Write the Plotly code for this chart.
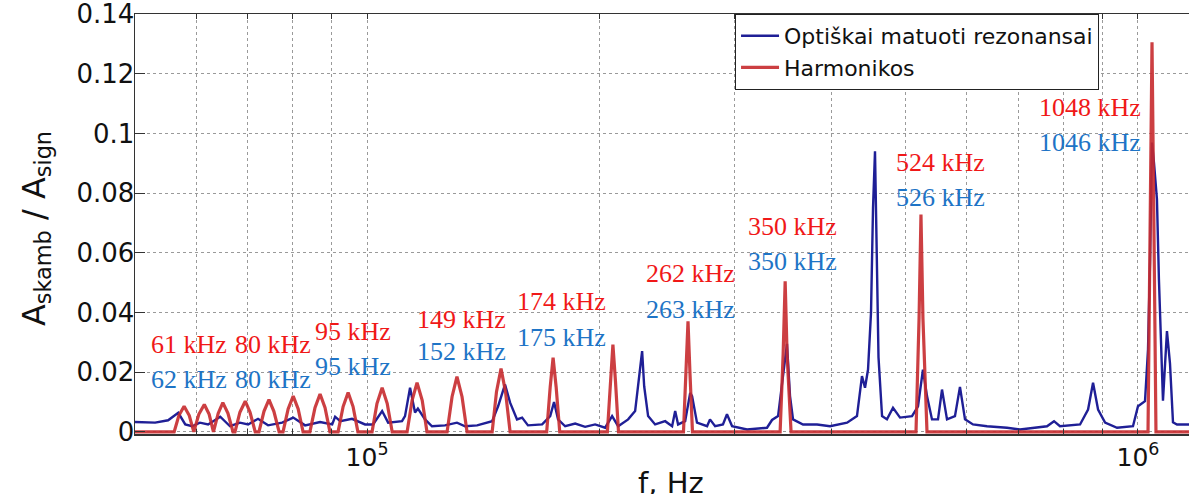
import numpy as np
import plotly.graph_objects as go

# ---------------- data ----------------
# Optically measured resonances (blue), frequency in kHz, amplitude ratio
blue_f_khz = [50.0, 53.1, 55.2, 56.9, 58.1, 59.3, 60.7, 62.2, 64.5, 66.4, 68.4, 70.1, 72.2, 74.4,
              77.6, 80.2, 83.1, 86.9, 90.1, 90.9, 92.3, 95.6, 99.4, 101.8, 104.6, 106.5, 111.0,
              112.0, 113.7, 114.4, 115.4, 116.4, 118.9, 121.4, 126.2, 130.8, 134.0, 138.9, 145.3,
              147.9, 151.0, 153.3, 156.5, 158.9, 161.7, 168.7, 172.8, 174.8, 176.9, 180.7, 186.2,
              191.8, 197.6, 203.6, 207.9, 211.7, 218.1, 222.7, 227.4, 228.8, 231.5, 236.4, 243.6,
              248.7, 251.0, 253.2, 258.6, 262.5, 264.0, 267.9, 276.1, 278.5, 282.8, 289.5, 293.0,
              297.5, 311.1, 330.2, 335.2, 341.3, 350.5, 353.7, 356.9, 367.7, 383.5, 398.6, 419.4,
              432.0, 438.5, 442.5, 446.5, 450.5, 453.2, 455.9, 458.7, 460.7, 465.6, 472.5, 481.1,
              491.3, 509.2, 518.4, 526.1, 532.5, 540.5, 550.3, 556.9, 565.3, 578.9, 587.6, 596.5,
              610.9, 637.1, 676.2, 703.1, 762.1, 778.2, 792.2, 841.1, 861.5, 874.4, 887.6, 906.4,
              939.5, 985.2, 1000.0, 1021.2, 1030.4, 1036.6, 1042.8, 1049.1, 1058.3, 1064.6, 1077.5,
              1090.4, 1100.3, 1110.2, 1123.5, 1164.6]
blue_amp = [0.0033, 0.0031, 0.0039, 0.0064, 0.0025, 0.0019, 0.0031, 0.0025, 0.0051, 0.0019, 0.0031,
            0.0025, 0.0044, 0.0022, 0.0031, 0.0048, 0.0022, 0.0033, 0.0025, 0.0051, 0.0036, 0.0044,
            0.0025, 0.0025, 0.0070, 0.0031, 0.0036, 0.0053, 0.0148, 0.0109, 0.0065, 0.0078, 0.0042,
            0.0019, 0.0022, 0.0031, 0.0019, 0.0022, 0.0036, 0.0086, 0.0159, 0.0098, 0.0042, 0.0048,
            0.0022, 0.0025, 0.0053, 0.0100, 0.0042, 0.0019, 0.0028, 0.0017, 0.0025, 0.0014, 0.0053,
            0.0019, 0.0042, 0.0070, 0.0271, 0.0153, 0.0053, 0.0025, 0.0036, 0.0019, 0.0070, 0.0025,
            0.0036, 0.0131, 0.0120, 0.0031, 0.0019, 0.0042, 0.0019, 0.0025, 0.0059, 0.0019, 0.0008,
            0.0014, 0.0040, 0.0053, 0.0295, 0.0120, 0.0042, 0.0025, 0.0025, 0.0019, 0.0031, 0.0053,
            0.0187, 0.0148, 0.0209, 0.0400, 0.0750, 0.0941, 0.0600, 0.0250, 0.0053, 0.0042, 0.0081,
            0.0048, 0.0053, 0.0086, 0.0209, 0.0120, 0.0042, 0.0042, 0.0142, 0.0042, 0.0053, 0.0151,
            0.0042, 0.0025, 0.0019, 0.0014, 0.0008, 0.0019, 0.0036, 0.0019, 0.0025, 0.0075, 0.0165,
            0.0075, 0.0031, 0.0014, 0.0019, 0.0086, 0.0103, 0.0276, 0.0570, 0.0970, 0.0900, 0.0780,
            0.0510, 0.0105, 0.0338, 0.0230, 0.0032, 0.0025, 0.0025]

# Harmonics (red), frequency in kHz, amplitude ratio
red_f_khz = [50.0, 56.2, 57.0, 57.9, 58.8, 59.6, 60.5, 61.5, 62.4, 63.2, 64.1, 65.0, 66.0, 67.0,
             67.4, 68.4, 69.5, 70.5, 71.6, 72.4, 73.5, 74.6, 75.7, 76.9, 77.8, 79.0, 80.2, 81.4,
             82.6, 84.3, 85.6, 86.9, 88.2, 89.5, 91.7, 93.1, 94.5, 95.9, 97.3, 101.5, 103.0, 104.6,
             106.2, 107.8, 112.7, 114.4, 116.1, 117.9, 119.6, 127.0, 128.9, 130.8, 132.8, 134.8,
             145.3, 147.2, 149.2, 151.2, 153.3, 171.0, 172.8, 174.3, 175.9, 177.8, 205.0, 206.9,
             208.4, 210.0, 211.9, 257.3, 259.2, 260.8, 262.3, 264.3, 343.4, 346.5, 348.6, 350.6,
             354.8, 515.3, 520.0, 523.0, 526.1, 532.5, 1030.4, 1036.6, 1042.8, 1049.1, 1055.2, 1164.6]
red_amp = [0, 0, 0.0055, 0.0086, 0.0055, 0, 0.0059, 0.0092, 0.0059, 0, 0.0062, 0.0098, 0.0062, 0,
           0, 0.0066, 0.0103, 0.0066, 0, 0, 0.0069, 0.0108, 0.0069, 0, 0, 0.0077, 0.0120, 0.0077,
           0, 0, 0.0081, 0.0127, 0.0081, 0, 0, 0.0085, 0.0132, 0.0085, 0, 0, 0.0095, 0.0148,
           0.0095, 0, 0, 0.0106, 0.0165, 0.0106, 0, 0, 0.0118, 0.0185, 0.0118, 0,
           0, 0.0135, 0.0212, 0.0135, 0, 0, 0.0150, 0.0249, 0.0150, 0, 0, 0.0170,
           0.0293, 0.0170, 0, 0, 0.0200, 0.0371, 0.0200, 0, 0, 0.0260, 0.0505, 0.0260,
           0, 0, 0.0380, 0.0729, 0.0380, 0, 0, 0.0653, 0.1306, 0.0653, 0, 0]

# Peak labels
label_red_text = ["61 kHz", "80 kHz", "95 kHz", "149 kHz", "174 kHz", "262 kHz", "350 kHz",
                  "524 kHz", "1048 kHz"]
label_blue_text = ["62 kHz", "80 kHz", "95 kHz", "152 kHz", "175 kHz", "263 kHz", "350 kHz",
                   "526 kHz", "1046 kHz"]
label_f_khz = [58.8, 75.5, 95.9, 132.4, 178.5, 262.5, 355.9, 553.7, 866.5]
label_red_amp = [0.0293, 0.0293, 0.0337, 0.0377, 0.0437, 0.0531, 0.0688, 0.0903, 0.1087]
label_blue_amp = [0.0176, 0.0176, 0.0219, 0.0270, 0.0317, 0.0410, 0.0571, 0.0786, 0.0970]

# Axes
y_tick_vals = [0, 0.02, 0.04, 0.06, 0.08, 0.1, 0.12, 0.14]
y_tick_text = ["0", "0.02", "0.04", "0.06", "0.08", "0.1", "0.12", "0.14"]
x_tick_vals = [6e4, 7e4, 8e4, 9e4, 1e5, 2e5, 3e5, 4e5, 5e5, 6e5, 7e5, 8e5, 9e5, 1e6]
x_tick_text = ["", "", "", "", "10<sup>5</sup>", "", "", "", "", "", "", "", "", "10<sup>6</sup>"]
x_min_hz, x_max_hz = 5e4, 1.1646e6
y_min, y_max = -0.0007, 0.1401

assert len(blue_f_khz) == len(blue_amp)
assert len(red_f_khz) == len(red_amp)

# ---------------- figure ----------------
SANS = "DejaVu Sans"
SERIF = "Liberation Serif"
BLUE_LINE = "#1f1f96"
RED_LINE = "#c62a2e"
RED_TEXT = "#f01818"
BLUE_TEXT = "#1e74c6"
GRID = "#9a9a9a"

fig = go.Figure()
fig.add_trace(go.Scatter(
    x=np.array(blue_f_khz) * 1000, y=blue_amp, mode="lines",
    name="Optiškai matuoti rezonansai", hoverinfo="skip",
    line=dict(color=BLUE_LINE, width=2.4)))
fig.add_trace(go.Scatter(
    x=np.array(red_f_khz) * 1000, y=red_amp, mode="lines",
    name="Harmonikos", opacity=0.9, hoverinfo="skip",
    line=dict(color=RED_LINE, width=3.2)))

annotations = []
for txt, f, a in zip(label_red_text, label_f_khz, label_red_amp):
    annotations.append(dict(x=np.log10(f * 1000), y=a, xref="x", yref="y", text=txt,
                            showarrow=False, xanchor="center", yanchor="middle",
                            font=dict(family=SERIF, size=26, color=RED_TEXT)))
for txt, f, a in zip(label_blue_text, label_f_khz, label_blue_amp):
    annotations.append(dict(x=np.log10(f * 1000), y=a, xref="x", yref="y", text=txt,
                            showarrow=False, xanchor="center", yanchor="middle",
                            font=dict(family=SERIF, size=26, color=BLUE_TEXT)))

# axis titles
annotations.append(dict(x=-0.094, y=0.49, xref="paper", yref="paper",
                        text="A<sub>skamb</sub> / A<sub>sign</sub>", textangle=-90,
                        showarrow=False, xanchor="center", yanchor="middle",
                        font=dict(family=SANS, size=32, color="#111111")))
annotations.append(dict(x=0.5085, y=-0.116, xref="paper", yref="paper",
                        text="f, Hz", showarrow=False, xanchor="center", yanchor="middle",
                        font=dict(family=SANS, size=29, color="#111111")))

fig.update_layout(
    width=1189, height=494,
    margin=dict(l=135, r=0, t=14, b=60),
    paper_bgcolor="white", plot_bgcolor="white",
    showlegend=True, hovermode=False,
    legend=dict(x=0.5693, y=1.0, xanchor="left", yanchor="top",
                bgcolor="white", bordercolor="#222222", borderwidth=1,
                font=dict(family=SANS, size=22, color="#111111"),
                tracegroupgap=0, itemwidth=38),
    annotations=annotations,
)
fig.update_xaxes(
    type="log", range=[np.log10(x_min_hz), np.log10(x_max_hz)],
    tickmode="array", tickvals=x_tick_vals, ticktext=x_tick_text,
    tickfont=dict(family=SANS, size=25, color="#111111"),
    ticks="inside", ticklen=5, tickcolor="#333333",
    showgrid=True, gridcolor=GRID, griddash="dot", gridwidth=1,
    showline=True, linecolor="#333333", linewidth=1.5, mirror="ticks",
    zeroline=False,
)
fig.update_yaxes(
    range=[y_min, y_max],
    tickmode="array", tickvals=y_tick_vals, ticktext=y_tick_text,
    tickfont=dict(family=SANS, size=26, color="#111111"),
    ticks="inside", ticklen=10, tickcolor="#333333", ticklabelstandoff=-6,
    ticklabeloverflow="allow",
    showgrid=True, gridcolor=GRID, griddash="dot", gridwidth=1,
    showline=True, linecolor="#333333", linewidth=1.5, mirror=False,
    zeroline=False,
)

fig.write_html("out.html", config={"displayModeBar": False, "staticPlot": True},
               post_script="document.body.style.margin='0px';")
